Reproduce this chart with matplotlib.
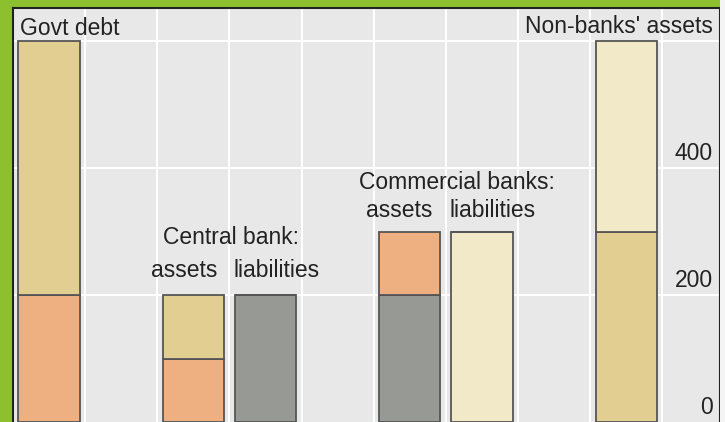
import matplotlib.pyplot as plt
from matplotlib.patches import Rectangle

plt.rc('font', family=['Liberation Sans', 'DejaVu Sans'])

# bar centres, one per column
positions = [0.5, 2.5, 3.5, 5.5, 6.5, 8.5]
# stacked segments, bottom to top: (value, colour name)
bottom_vals = [200, 100, 200, 200, 300, 300]
top_vals = [400, 100, 0, 100, 0, 300]
bottom_kind = ['salmon', 'salmon', 'grey', 'grey', 'cream', 'tan']
top_kind = ['tan', 'tan', 'grey', 'salmon', 'cream', 'cream']
yticks = [0, 200, 400]

colours = {'salmon': '#EFB081', 'tan': '#E2CE90', 'grey': '#979995', 'cream': '#F2E9C8'}

fig = plt.figure(figsize=(7.25, 4.22), dpi=100, facecolor='#8DC02F')
fig.patches.append(Rectangle((720 / 725, 0), 5 / 725, 1, transform=fig.transFigure,
                             facecolor='#F4F4F4', edgecolor='none'))
ax = fig.add_axes([13 / 725, 0, 707 / 725, 414 / 422])
ax.set_facecolor('#E8E8E8')
ax.set_xlim(0, 9.8)
ax.set_ylim(0, 652)

ax.set_xticks(range(1, 10))
ax.set_yticks([200, 400, 600])
ax.grid(True, color='white', linewidth=1.5)
ax.set_axisbelow(True)
ax.tick_params(length=0, labelbottom=False, labelleft=False)
for side in ['left', 'top', 'right']:
    ax.spines[side].set_linewidth(1.5)
    ax.spines[side].set_color('#222222')
ax.spines['bottom'].set_visible(False)

w = 0.85
ax.bar(positions, bottom_vals, width=w, color=[colours[k] for k in bottom_kind],
       edgecolor='#555555', linewidth=1.3, zorder=3)
ax.bar(positions, top_vals, bottom=bottom_vals, width=w, color=[colours[k] for k in top_kind],
       edgecolor='#555555', linewidth=1.3, zorder=3)

fs = 16.5
for v in yticks:
    ax.text(9.70, v + 13, str(v), ha='right', va='baseline', fontsize=fs, color='#222222')

ax.text(0.1, 609, 'Govt debt', ha='left', va='baseline', fontsize=fs, color='#222222')
ax.text(9.70, 612, "Non-banks' assets", ha='right', va='baseline', fontsize=fs, color='#222222')
ax.text(3.02, 280, 'Central bank:', ha='center', va='baseline', fontsize=fs, color='#222222')
ax.text(2.83, 228, 'assets', ha='right', va='baseline', fontsize=fs, color='#222222')
ax.text(3.05, 228, 'liabilities', ha='left', va='baseline', fontsize=fs, color='#222222')
ax.text(6.15, 367, 'Commercial banks:', ha='center', va='baseline', fontsize=fs, color='#222222')
ax.text(5.82, 323, 'assets', ha='right', va='baseline', fontsize=fs, color='#222222')
ax.text(6.05, 323, 'liabilities', ha='left', va='baseline', fontsize=fs, color='#222222')

plt.savefig('out.png', dpi=100, facecolor=fig.get_facecolor())
